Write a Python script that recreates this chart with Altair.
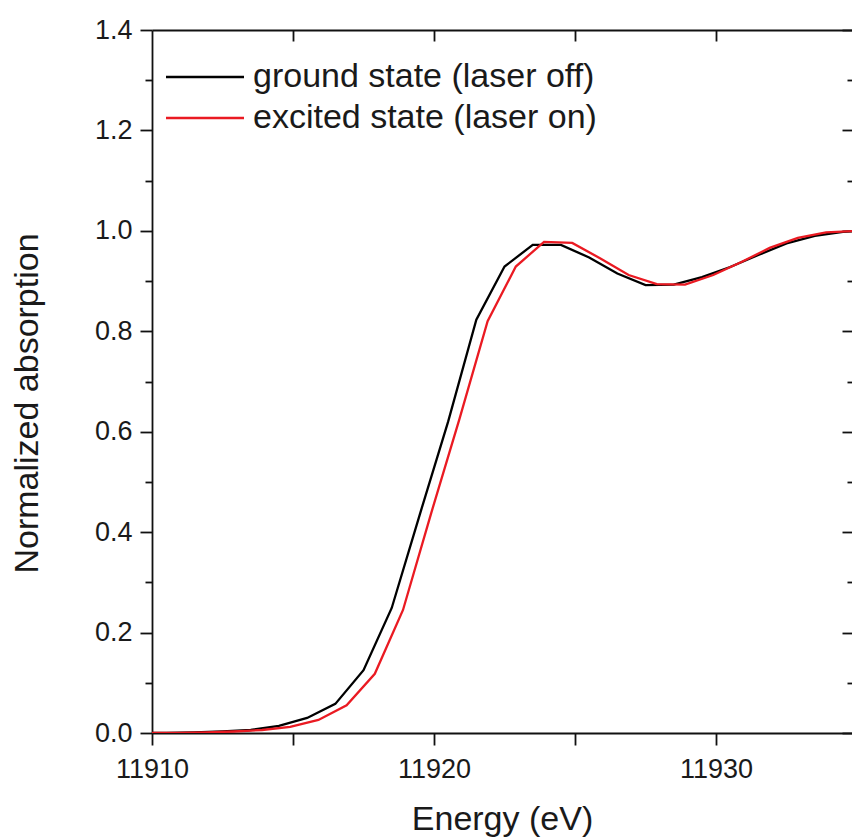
import altair as alt
import pandas as pd

# ---- data ----
ground_energy = [11910.0, 11910.5, 11911.5, 11912.5, 11913.5, 11914.5, 11915.5, 11916.5,
                 11917.5, 11918.5, 11919.5, 11920.5, 11921.5, 11922.5, 11923.5, 11924.5,
                 11925.5, 11926.5, 11927.5, 11928.5, 11929.5, 11930.5, 11931.5, 11932.5,
                 11933.5, 11934.5, 11935.0]
ground_abs = [0.000, 0.000, 0.001, 0.003, 0.006, 0.014, 0.030, 0.058,
              0.125, 0.249, 0.436, 0.620, 0.823, 0.929, 0.972, 0.972,
              0.947, 0.915, 0.892, 0.893, 0.908, 0.928, 0.952, 0.975,
              0.990, 0.998, 1.000]

excited_energy = [11910.0, 11910.9, 11911.9, 11912.9, 11913.9, 11914.9, 11915.9, 11916.9,
                  11917.9, 11918.9, 11919.9, 11920.9, 11921.9, 11922.9, 11923.9, 11924.9,
                  11925.9, 11926.9, 11927.9, 11928.9, 11929.9, 11930.9, 11931.9, 11932.9,
                  11933.9, 11935.0]
excited_abs = [0.000, 0.000, 0.001, 0.003, 0.006, 0.012, 0.026, 0.055,
               0.118, 0.245, 0.438, 0.625, 0.820, 0.929, 0.978, 0.976,
               0.945, 0.912, 0.894, 0.893, 0.912, 0.938, 0.966, 0.986,
               0.997, 1.000]

series_names = ["ground state (laser off)", "excited state (laser on)"]
series_colors = ["#000000", "#ea1a22"]

x_ticks = [11910, 11915, 11920, 11925, 11930]
x_top_ticks = [11915, 11920, 11925, 11930]
y_major = [0.0, 0.2, 0.4, 0.6, 0.8, 1.0, 1.2, 1.4]
y_minor = [0.1, 0.3, 0.5, 0.7, 0.9, 1.1, 1.3]

x_domain = [11910, 11934.82]
y_domain = [0, 1.4]

rows = []
for e, a in zip(ground_energy, ground_abs):
    rows.append({"energy": e, "absorption": a, "series": series_names[0]})
for e, a in zip(excited_energy, excited_abs):
    rows.append({"energy": e, "absorption": a, "series": series_names[1]})
df = pd.DataFrame(rows)

W, H = 700, 703
FONT = "Liberation Sans"

xs = alt.Scale(domain=x_domain, nice=False, zero=False)
ys = alt.Scale(domain=y_domain, nice=False, zero=False)

lines = alt.Chart(df).mark_line(strokeWidth=2.3, clip=True).encode(
    x=alt.X("energy:Q", scale=xs,
            axis=alt.Axis(orient="bottom", values=x_ticks, format="d",
                          labelExpr="datum.value % 10 == 0 ? datum.label : ''",
                          labelFlush=False,
                          tickSize=12, labelPadding=11,
                          title="Energy (eV)", titlePadding=20)),
    y=alt.Y("absorption:Q", scale=ys,
            axis=alt.Axis(orient="left", values=y_major, format=".1f",
                          labelFlush=False,
                          tickSize=12, labelPadding=8,
                          title="Normalized absorption", titlePadding=50,
                          titleY=373)),
    color=alt.Color("series:N", sort=series_names,
                    scale=alt.Scale(domain=series_names, range=series_colors),
                    title=None,
                    legend=alt.Legend(orient="none", legendX=-3, legendY=30,
                                      symbolType="M0,0L6,0", symbolSize=676,
                                      symbolStrokeWidth=2.6, labelFontSize=34,
                                      labelFont=FONT, labelColor="#1a1a1a",
                                      labelOffset=70, rowPadding=7, padding=0,
                                      labelLimit=600)),
)

ghost = alt.Chart(df).mark_point(opacity=0)

# top frame line with inward ticks + left minor ticks
top_and_leftminor = ghost.encode(
    x=alt.X("energy:Q", scale=xs, title=None,
            axis=alt.Axis(orient="bottom", offset=-H, values=x_top_ticks,
                          tickSize=11, labels=False, domain=True)),
    y=alt.Y("absorption:Q", scale=ys, title=None,
            axis=alt.Axis(orient="left", values=y_minor, tickSize=7,
                          labels=False, domain=False)),
)

# right side inward major ticks
right_major = ghost.encode(
    x=alt.X("energy:Q", scale=xs, axis=None),
    y=alt.Y("absorption:Q", scale=ys, title=None,
            axis=alt.Axis(orient="left", offset=-W, values=y_major, tickSize=10,
                          labels=False, domain=False)),
)

# right side inward minor ticks
right_minor = ghost.encode(
    x=alt.X("energy:Q", scale=xs, axis=None),
    y=alt.Y("absorption:Q", scale=ys, title=None,
            axis=alt.Axis(orient="left", offset=-W, values=y_minor, tickSize=5,
                          labels=False, domain=False)),
)

chart = alt.layer(lines, top_and_leftminor, right_major, right_minor).resolve_axis(
    x="independent", y="independent"
).properties(
    width=W, height=H,
    padding={"left": 152, "top": 30, "right": 0, "bottom": 104},
    autosize=alt.AutoSizeParams(type="none"),
    background="white",
).configure_view(
    stroke=None
).configure_axis(
    grid=False,
    labelFont=FONT, titleFont=FONT,
    labelFontSize=27, titleFontSize=34,
    titleFontWeight="normal",
    labelColor="#1a1a1a", titleColor="#1a1a1a",
    domainColor="#111111", tickColor="#111111",
    domainWidth=1.8, tickWidth=1.8,
)

chart.save("out.html", embed_options={"renderer": "svg", "actions": False})
